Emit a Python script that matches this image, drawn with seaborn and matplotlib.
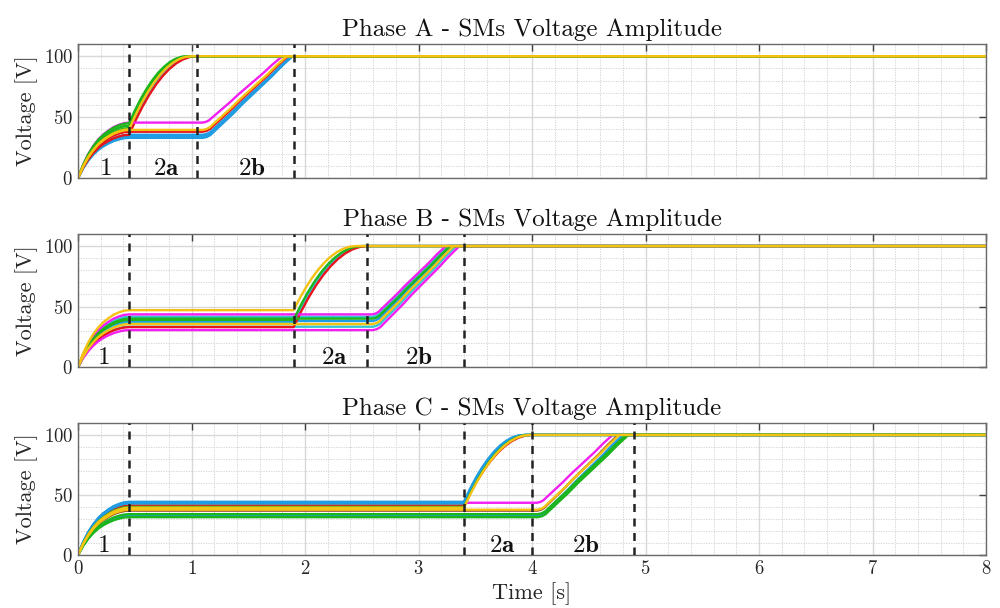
import numpy as np
import pandas as pd
import matplotlib
matplotlib.use("Agg")
import matplotlib.pyplot as plt
import seaborn as sns
from matplotlib.ticker import MultipleLocator

# ---------------- data ----------------
T_END = 8.0
# stage timing per phase: end of stage 1, start of 2a, start of 2b, end of 2b
a_times = [0.45, 0.45, 1.05, 1.90]
b_times = [0.45, 1.90, 2.55, 3.40]
c_times = [0.45, 3.40, 4.00, 4.90]

# normalised shapes
charge1_t = [0.0, 0.1, 0.2, 0.3, 0.4, 0.5, 0.6, 0.7, 0.8, 0.9, 1.0]
charge1_f = [0.0, 0.24, 0.43, 0.58, 0.70, 0.79, 0.86, 0.92, 0.96, 0.99, 1.0]
charge2a_s = [0.0, 0.1, 0.2, 0.3, 0.4, 0.5, 0.6, 0.7, 0.8, 0.9, 1.0]
charge2a_f = [0.0, 0.19, 0.36, 0.51, 0.64, 0.75, 0.84, 0.91, 0.96, 0.99, 1.0]
charge2b_s = [0.0, 0.06, 0.10, 0.14, 0.18, 0.28, 0.38, 0.48, 0.58, 0.68, 0.78, 0.88, 1.0]
charge2b_f = [0.0, 0.0, 0.01, 0.035, 0.08, 0.19, 0.30, 0.42, 0.53, 0.64, 0.75, 0.87, 1.0]

# Phase A submodules
a_color = ["blue", "blue", "blue", "blue", "magenta", "red", "red",
           "green", "green", "green", "yellow", "yellow"]
a_level = [33.0, 34.5, 35.5, 38.5, 45.5, 38.0, 35.5, 45.0, 43.0, 41.0, 39.5, 40.0]
a_group = ["2b", "2b", "2b", "2a", "2b", "2b", "2a", "2a", "2a", "2a", "2b", "2a"]
a_full = [1.89, 1.885, 1.88, 1.01, 1.80, 1.85, 1.045, 0.96, 0.975, 0.99, 1.84, 1.00]

# Phase B submodules
b_color = ["magenta", "cyan", "green", "blue", "yellow", "cyan", "magenta",
           "yellow", "green", "blue", "cyan", "red"]
b_level = [43.5, 41.5, 40.0, 38.0, 35.5, 33.3, 30.5, 47.0, 39.0, 37.0, 36.0, 33.0]
b_group = ["2b", "2b", "2b", "2b", "2b", "2b", "2b", "2a", "2a", "2a", "2a", "2a"]
b_full = [3.24, 3.26, 3.28, 3.29, 3.31, 3.33, 3.36, 2.45, 2.50, 2.52, 2.51, 2.55]

# Phase C submodules
c_color = ["blue", "blue", "blue", "cyan", "green", "yellow", "red",
           "magenta", "dark", "yellow", "blue", "cyan", "green", "green"]
c_level = [44.3, 43.6, 43.0, 43.3, 40.0, 39.4, 41.3,
           43.5, 37.0, 37.7, 33.0, 32.5, 34.0, 31.5]
c_group = ["2a", "2a", "2a", "2a", "2a", "2a", "2a",
           "2b", "2b", "2b", "2b", "2b", "2b", "2b"]
c_full = [3.93, 3.94, 3.95, 3.95, 3.97, 3.98, 4.00,
          4.71, 4.76, 4.77, 4.80, 4.82, 4.83, 4.85]

phase_titles = ["Phase A - SMs Voltage Amplitude",
                "Phase B - SMs Voltage Amplitude",
                "Phase C - SMs Voltage Amplitude"]
stage_labels = ["1", "2a", "2b"]
a_label_x = [0.24, 0.78, 1.53]
b_label_x = [0.22, 2.26, 3.00]
c_label_x = [0.22, 3.74, 4.47]

palette_colors = {
    "blue": "#1f9ce2", "cyan": "#33c4d6", "dark": "#8b3a2a", "red": "#e8141c",
    "magenta": "#f21ef2", "green": "#1cb51c", "yellow": "#f5c211",
}
a_order = ["blue", "cyan", "dark", "red", "magenta", "green", "yellow"]
b_order = ["blue", "cyan", "dark", "red", "magenta", "green", "yellow"]
c_order = ["magenta", "dark", "red", "cyan", "blue", "green", "yellow"]


def build_frame(times, colors, levels, groups, fulls):
    t1, t2a, t2b, _ = times
    rows = []
    for i, (col, L, g, tf) in enumerate(zip(colors, levels, groups, fulls)):
        ts = list(np.array(charge1_t) * t1)
        vs = list(np.array(charge1_f) * L)
        if g == "2a":
            start, s, f = t2a, charge2a_s, charge2a_f
        else:
            start, s, f = t2b, charge2b_s, charge2b_f
        ts += list(start + np.array(s) * (tf - start))
        vs += list(L + (100.0 - L) * np.array(f))
        ts.append(T_END)
        vs.append(100.0)
        for t, v in zip(ts, vs):
            rows.append({"t": t, "v": v, "sm": f"{col}_{i:02d}"})
    return pd.DataFrame(rows)


phases = [
    (a_times, a_color, a_level, a_group, a_full, a_label_x, a_order),
    (b_times, b_color, b_level, b_group, b_full, b_label_x, b_order),
    (c_times, c_color, c_level, c_group, c_full, c_label_x, c_order),
]

# ---------------- style ----------------
sns.set_theme(style="white")
plt.rcParams["font.family"] = ["cmr10", "DejaVu Serif"]
plt.rcParams["mathtext.fontset"] = "cm"
plt.rcParams["axes.formatter.use_mathtext"] = True
plt.rcParams["axes.unicode_minus"] = False

fig = plt.figure(figsize=(10, 6.08), dpi=100)
axes_pos = [
    [0.078, 0.7072, 0.908, 0.2204],
    [0.078, 0.3964, 0.908, 0.2188],
    [0.078, 0.0872, 0.908, 0.2172],
]

for k, (times, colors, levels, groups, fulls, lab_x, corder) in enumerate(phases):
    ax = fig.add_axes(axes_pos[k])
    df = build_frame(times, colors, levels, groups, fulls)
    order = sorted(df["sm"].unique(), key=lambda s: (corder.index(s.split("_")[0]), s))
    pal = {s: palette_colors[s.split("_")[0]] for s in order}
    sns.lineplot(data=df, x="t", y="v", hue="sm", hue_order=order, palette=pal,
                 estimator=None, sort=False, linewidth=1.7, legend=False, ax=ax)

    for xb in sorted(set(times)):
        ax.axvline(xb, color="#222222", linestyle=(0, (3.2, 2.6)), linewidth=1.8, zorder=5)

    for lbl, lx in zip(stage_labels, lab_x):
        ax.text(lx, 7.5, r"$\mathbf{" + lbl + "}$", fontsize=18, ha="center",
                va="center", color="#111111", zorder=6)

    ax.set_xlim(0, 8)
    ax.set_ylim(0, 110)
    ax.xaxis.set_major_locator(MultipleLocator(1))
    ax.xaxis.set_minor_locator(MultipleLocator(0.2))
    ax.yaxis.set_major_locator(MultipleLocator(50))
    ax.yaxis.set_minor_locator(MultipleLocator(10))
    ax.grid(True, which="major", color="#d8d8d8", linewidth=1.0, linestyle="-")
    ax.grid(True, which="minor", color="#cfcfcf", linewidth=0.6, linestyle=(0, (1.5, 1.5)))
    ax.set_axisbelow(True)
    ax.tick_params(which="major", direction="in", top=True, right=True,
                   length=5, width=1, color="#404040", labelsize=13.5,
                   labelcolor="#262626")
    ax.tick_params(which="minor", length=0)
    for sp in ax.spines.values():
        sp.set_color("#6a6a6a")
        sp.set_linewidth(1.0)
    ax.set_title(phase_titles[k], fontsize=18, pad=6, color="#111111")
    ax.set_ylabel("Voltage [V]", fontsize=16, color="#262626", labelpad=4)
    if k < 2:
        ax.set_xticklabels([])
        ax.set_xlabel("")
    else:
        ax.set_xlabel("Time [s]", fontsize=16, color="#262626", labelpad=3)

fig.savefig("out.png", dpi=100)
